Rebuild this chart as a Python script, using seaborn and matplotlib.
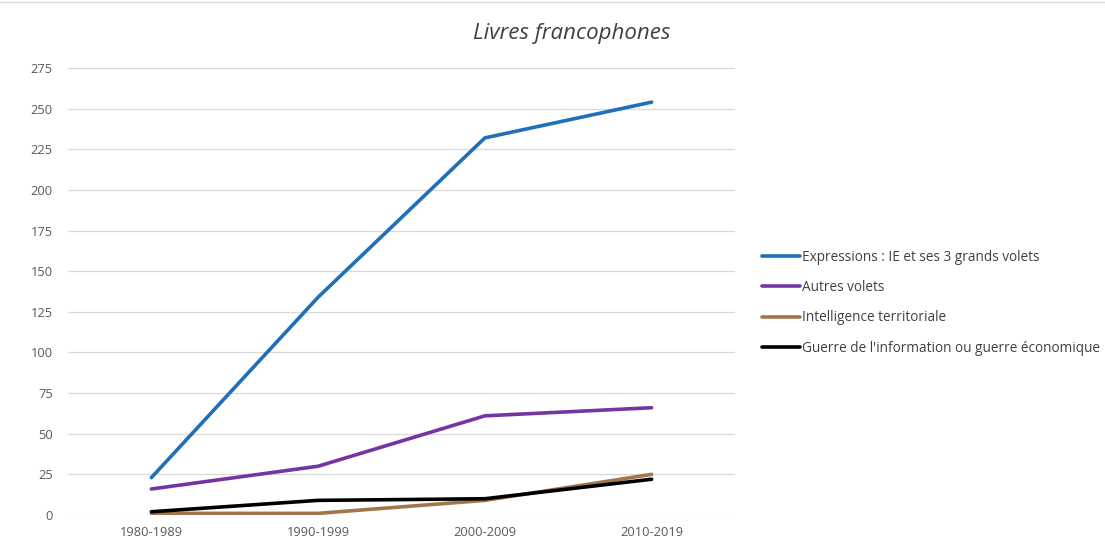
import pandas as pd
import matplotlib.pyplot as plt
import seaborn as sns
from matplotlib.lines import Line2D

# Data
decades = ['1980-1989', '1990-1999', '2000-2009', '2010-2019']
expressions_ie = [23, 134, 232, 254]
autres_volets = [16, 30, 61, 66]
intelligence_territoriale = [1, 1, 9, 25]
guerre_info = [2, 9, 10, 22]

series_names = [
    'Expressions : IE et ses 3 grands volets',
    'Autres volets',
    'Intelligence territoriale',
    "Guerre de l'information ou guerre économique",
]
series_values = [expressions_ie, autres_volets, intelligence_territoriale, guerre_info]
colors = ['#1f70b8', '#7434a4', '#a0764a', '#000000']

# Long-form table for seaborn
rows = []
for name, vals in zip(series_names, series_values):
    for d, v in zip(decades, vals):
        rows.append({'Décennie': d, 'Nombre': v, 'Série': name})
df = pd.DataFrame(rows)

sns.set_style('white')
plt.rcParams['font.family'] = ['Open Sans', 'DejaVu Sans']

fig = plt.figure(figsize=(11.05, 5.48), dpi=100)
ax = fig.add_axes([68 / 1105, 1 - 515 / 548, (735 - 68) / 1105, (515 - 68) / 548])

sns.lineplot(data=df, x='Décennie', y='Nombre', hue='Série', hue_order=series_names,
             palette=colors, linewidth=2.6, sort=False, legend=False, ax=ax)

ax.set_xlim(-0.5, 3.5)
ax.set_ylim(0, 275)
ax.set_yticks(range(0, 276, 25))
ax.yaxis.grid(True, color='#d9d9d9', linewidth=0.9)
ax.set_axisbelow(True)
ax.set_xlabel('')
ax.set_ylabel('')
for s in ax.spines.values():
    s.set_visible(False)
ax.tick_params(axis='both', length=0, labelsize=9.3, labelcolor='#595959')
ax.tick_params(axis='y', pad=11)
ax.tick_params(axis='x', pad=8)

# Title
fig.text(572 / 1105, 1 - 34 / 548, 'Livres francophones', ha='center', va='center',
         fontsize=16, style='italic', color='#404040')

# Legend on the right
handles = [Line2D([0], [0], color=c, linewidth=2.6) for c in colors]
leg = fig.legend(handles, series_names, loc='upper left',
                 bbox_to_anchor=(762 / 1105, 1 - 250 / 548), frameon=False,
                 fontsize=9.8, handlelength=2.8, handletextpad=0.15,
                 labelspacing=1.12, borderaxespad=0, borderpad=0)
for t in leg.get_texts():
    t.set_color('#404040')

# thin chart border line at the top
fig.add_artist(Line2D([0, 1], [1 - 2 / 548, 1 - 2 / 548], color='#d9d9d9', linewidth=1))

fig.savefig('out.png', dpi=100)
